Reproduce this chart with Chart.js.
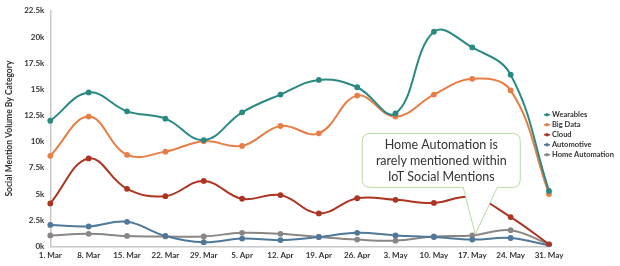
<!DOCTYPE html>
<html>
<head>
<meta charset="utf-8">
<script src="https://cdn.jsdelivr.net/npm/chart.js@4"></script>
<style>
  html, body { margin: 0; padding: 0; background: #fff; }
  #wrap { width: 620px; height: 266px; }
</style>
</head>
<body>
<div id="wrap"><canvas id="chart"></canvas></div>
<script>
const dates = ["1. Mar","8. Mar","15. Mar","22. Mar","29. Mar","5. Apr","12. Apr","19. Apr","26. Apr","3. May","10. May","17. May","24. May","31. May"];
const wearables = [12000,14700,12900,12200,10150,12800,14500,15900,15200,12700,20500,19000,16400,5300];
const bigData = [8650,12400,8750,9050,10050,9600,11500,10800,14400,12400,14500,16000,14900,5000];
const cloud = [4100,8400,5500,4800,6250,4550,4900,3150,4600,4450,4150,4700,2800,200];
const automotive = [2050,1900,2350,1000,400,750,600,900,1300,1050,900,650,800,100];
const homeAutomation = [1050,1200,1000,950,950,1300,1200,900,650,550,950,1050,1550,200];

const calloutLines = ["Home Automation is", "rarely mentioned within", "IoT Social Mentions"];

function series(label, data, color) {
    return {
        label: label,
        data: data,
        borderColor: color,
        backgroundColor: color,
        borderWidth: 2,
        pointRadius: 1.9,
        pointHoverRadius: 3,
        tension: 0.4,
        fill: false
    };
}

// legend drawn inside the right margin, like the original
const sideLegend = {
    id: "sideLegend",
    afterDraw(chart) {
        const ctx = chart.ctx;
        const area = chart.chartArea;
        let y = area.top + 104;
        ctx.save();
        ctx.font = "bold 7.5px Lato";
        ctx.textBaseline = "middle";
        chart.data.datasets.forEach(ds => {
            const x = area.right - 2;
            ctx.strokeStyle = ds.borderColor;
            ctx.lineWidth = 1.5;
            ctx.beginPath();
            ctx.moveTo(x - 3, y);
            ctx.lineTo(x + 3, y);
            ctx.stroke();
            ctx.fillStyle = ds.borderColor;
            ctx.beginPath();
            ctx.arc(x, y, 1.8, 0, Math.PI * 2);
            ctx.fill();
            ctx.fillStyle = "#333";
            ctx.fillText(ds.label, x + 5, y);
            y += 10;
        });
        ctx.restore();
    }
};

// speech bubble pointing at Home Automation on 17 May
const callout = {
    id: "callout",
    afterDatasetsDraw(chart) {
        const ctx = chart.ctx;
        const idx = 11;
        const tx = chart.scales.x.getPixelForValue(idx) + 3;
        const ty = chart.scales.y.getPixelForValue(homeAutomation[idx]) - 1;
        const left = tx - 113, right = tx + 45, top = ty - 101, bottom = ty - 47;
        const r = 8;
        ctx.save();
        ctx.beginPath();
        ctx.moveTo(left + r, top);
        ctx.lineTo(right - r, top);
        ctx.quadraticCurveTo(right, top, right, top + r);
        ctx.lineTo(right, bottom - r);
        ctx.quadraticCurveTo(right, bottom, right - r, bottom);
        ctx.lineTo(tx + 22, bottom);
        ctx.lineTo(tx, ty);
        ctx.lineTo(tx - 12, bottom);
        ctx.lineTo(left + r, bottom);
        ctx.quadraticCurveTo(left, bottom, left, bottom - r);
        ctx.lineTo(left, top + r);
        ctx.quadraticCurveTo(left, top, left + r, top);
        ctx.closePath();
        ctx.fillStyle = "#fff";
        ctx.fill();
        ctx.strokeStyle = "#b9d9a6";
        ctx.lineWidth = 1;
        ctx.stroke();
        ctx.fillStyle = "#333";
        ctx.font = "12.5px Lato";
        ctx.textAlign = "center";
        ctx.textBaseline = "middle";
        calloutLines.forEach((t, i) => {
            ctx.fillText(t, (left + right) / 2, top + 12 + i * 16);
        });
        ctx.restore();
    }
};

Chart.defaults.font.family = "Lato";

new Chart(document.getElementById("chart"), {
    type: "line",
    data: {
        labels: dates,
        datasets: [
            series("Wearables", wearables, "#2b8983"),
            series("Big Data", bigData, "#e77e47"),
            series("Cloud", cloud, "#ad3420"),
            series("Automotive", automotive, "#4f7899"),
            series("Home Automation", homeAutomation, "#8b8686")
        ]
    },
    options: {
        responsive: true,
        maintainAspectRatio: false,
        animation: false,
        layout: { padding: { top: 6, right: 71, bottom: 2, left: 4 } },
        plugins: {
            legend: { display: false },
            tooltip: { enabled: false }
        },
        scales: {
            x: {
                offset: false,
                grid: { display: false, drawTicks: false },
                border: { color: "#c8c8c8", width: 1.5 },
                ticks: {
                    autoSkip: false,
                    maxRotation: 0,
                    padding: 4,
                    color: "#333",
                    font: { size: 8, weight: "bold" }
                }
            },
            y: {
                min: 0,
                max: 22500,
                grid: { display: false, drawTicks: false },
                border: { color: "#c8c8c8", width: 1.5 },
                ticks: {
                    stepSize: 2500,
                    padding: 6,
                    color: "#333",
                    font: { size: 8, weight: "bold" },
                    callback: v => (v / 1000) + "k"
                },
                title: {
                    display: true,
                    text: "Social Mention Volume By Category",
                    color: "#333",
                    padding: { top: 0, bottom: 4 },
                    font: { size: 8.5, weight: "bold" }
                }
            }
        }
    },
    plugins: [callout, sideLegend]
});
</script>
</body>
</html>
